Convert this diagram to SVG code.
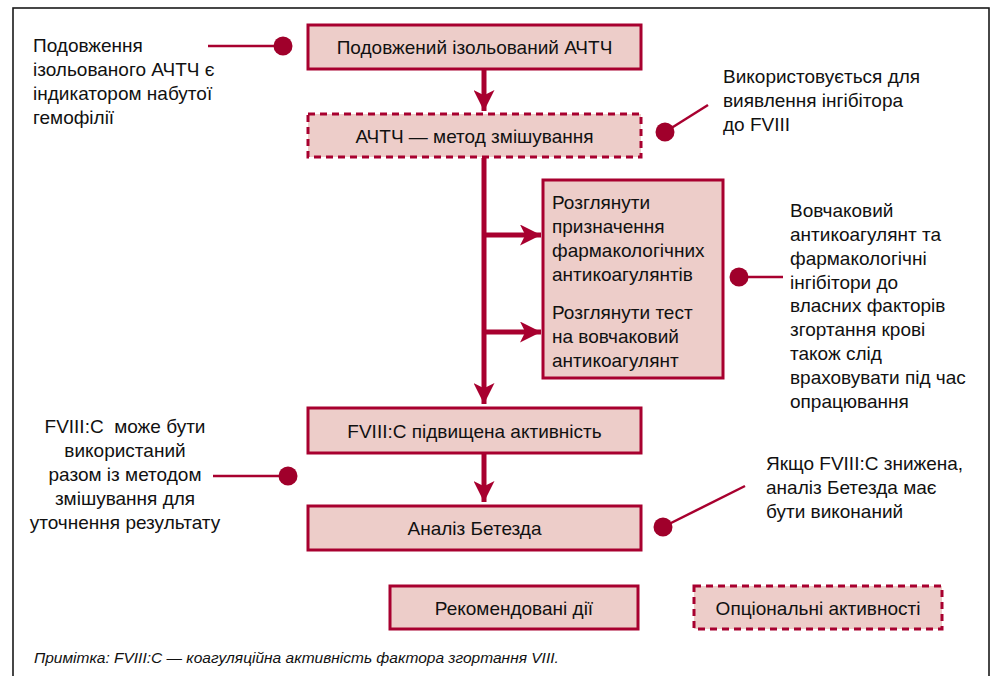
<svg xmlns="http://www.w3.org/2000/svg" width="999" height="676" viewBox="0 0 999 676">
<style>
.bg{fill:#ffffff}
.frame{fill:none;stroke:#1a1a1a;stroke-width:1.6}
.box{fill:#EDCDC9;stroke:#A8002F;stroke-width:3}
.dash{stroke-dasharray:7 5}
.t{font-family:"Liberation Sans","Noto Sans",sans-serif;font-size:19px;fill:#111}
.c{text-anchor:middle}
.note{font-family:"Liberation Sans","Noto Sans",sans-serif;font-size:15.5px;font-style:italic;fill:#111}
.flow{stroke:#A8002F;stroke-width:5;fill:none}
.lead{stroke:#A8002F;stroke-width:2.5;fill:none}
.dot{fill:#A0002B}
</style>
<defs>
<marker id="ah" viewBox="0 0 10 10" refX="10" refY="5" markerWidth="5.6" markerHeight="4.2" markerUnits="strokeWidth" orient="auto">
<path d="M0,0 L10,5 L0,10 L2.5,5 Z" fill="#A8002F"/>
</marker>
</defs>
<rect class="bg" x="0" y="0" width="999" height="676"/>
<rect class="frame" x="13" y="8" width="976" height="690"/>

<g id="connectors">
<line class="flow" x1="484" y1="70" x2="484" y2="111" marker-end="url(#ah)"/>
<line class="flow" x1="484" y1="158" x2="484" y2="404" marker-end="url(#ah)"/>
<line class="flow" x1="484" y1="235" x2="541" y2="235" marker-end="url(#ah)"/>
<line class="flow" x1="484" y1="332" x2="541" y2="332" marker-end="url(#ah)"/>
<line class="flow" x1="484" y1="454" x2="484" y2="502" marker-end="url(#ah)"/>
<line class="lead" x1="208" y1="46" x2="283" y2="46"/>
<circle class="dot" cx="283" cy="46" r="9.5"/>
<line class="lead" x1="665" y1="132" x2="708" y2="105"/>
<circle class="dot" cx="665" cy="132" r="9.5"/>
<line class="lead" x1="739" y1="277" x2="783" y2="277"/>
<circle class="dot" cx="739" cy="277" r="9.5"/>
<line class="lead" x1="213" y1="476" x2="288" y2="476"/>
<circle class="dot" cx="288" cy="476" r="9.5"/>
<line class="lead" x1="663" y1="527" x2="745" y2="486"/>
<circle class="dot" cx="663" cy="527" r="9.5"/>
</g>

<g id="n1">
<rect class="box" x="308" y="25" width="333" height="44"/>
<text class="t c" x="474.5" y="54">Подовжений ізольований АЧТЧ</text>
</g>
<g id="n2">
<rect class="box dash" x="308" y="114" width="333" height="43"/>
<text class="t c" x="474.5" y="142.5">АЧТЧ — метод змішування</text>
</g>
<g id="n3">
<rect class="box" x="543" y="180" width="180" height="198"/>
<text class="t" x="552" y="209">Розглянути</text>
<text class="t" x="552" y="233">призначення</text>
<text class="t" x="552" y="257">фармакологічних</text>
<text class="t" x="552" y="281">антикоагулянтів</text>
<text class="t" x="552" y="319">Розглянути тест</text>
<text class="t" x="552" y="343">на вовчаковий</text>
<text class="t" x="552" y="367">антикоагулянт</text>
</g>
<g id="n4">
<rect class="box" x="308" y="408" width="333" height="45"/>
<text class="t c" x="474.5" y="437.5">FVIII:C підвищена активність</text>
</g>
<g id="n5">
<rect class="box" x="308" y="506" width="333" height="44"/>
<text class="t c" x="474.5" y="535">Аналіз Бетезда</text>
</g>

<g id="a1">
<text class="t" x="33" y="52">Подовження</text>
<text class="t" x="33" y="76">ізольованого АЧТЧ є</text>
<text class="t" x="33" y="100">індикатором набутої</text>
<text class="t" x="33" y="124">гемофілії</text>
</g>
<g id="a2">
<text class="t" x="723" y="83">Використовується для</text>
<text class="t" x="723" y="107">виявлення інгібітора</text>
<text class="t" x="723" y="131">до FVIII</text>
</g>
<g id="a3">
<text class="t" x="790" y="217">Вовчаковий</text>
<text class="t" x="790" y="241">антикоагулянт та</text>
<text class="t" x="790" y="264.5">фармакологічні</text>
<text class="t" x="790" y="288.5">інгібітори до</text>
<text class="t" x="790" y="312">власних факторів</text>
<text class="t" x="790" y="336">згортання крові</text>
<text class="t" x="790" y="360">також слід</text>
<text class="t" x="790" y="384">враховувати під час</text>
<text class="t" x="790" y="408">опрацювання</text>
</g>
<g id="a4">
<text class="t c" x="125" y="433" xml:space="preserve">FVIII:C  може бути</text>
<text class="t c" x="125" y="457">використаний</text>
<text class="t c" x="125" y="481">разом із методом</text>
<text class="t c" x="125" y="505">змішування для</text>
<text class="t c" x="125" y="529">уточнення результату</text>
</g>
<g id="a5">
<text class="t" x="766" y="470">Якщо FVIII:C знижена,</text>
<text class="t" x="766" y="494">аналіз Бетезда має</text>
<text class="t" x="766" y="518">бути виконаний</text>
</g>

<g id="legend-recommended">
<rect class="box" x="390" y="586" width="248" height="43"/>
<text class="t c" x="514" y="614.5">Рекомендовані дії</text>
</g>
<g id="legend-optional">
<rect class="box dash" x="694" y="586" width="248" height="43"/>
<text class="t c" x="818" y="614.5">Опціональні активності</text>
</g>

<text class="note" x="34" y="663">Примітка: FVIII:C — коагуляційна активність фактора згортання VIII.</text>
</svg>
